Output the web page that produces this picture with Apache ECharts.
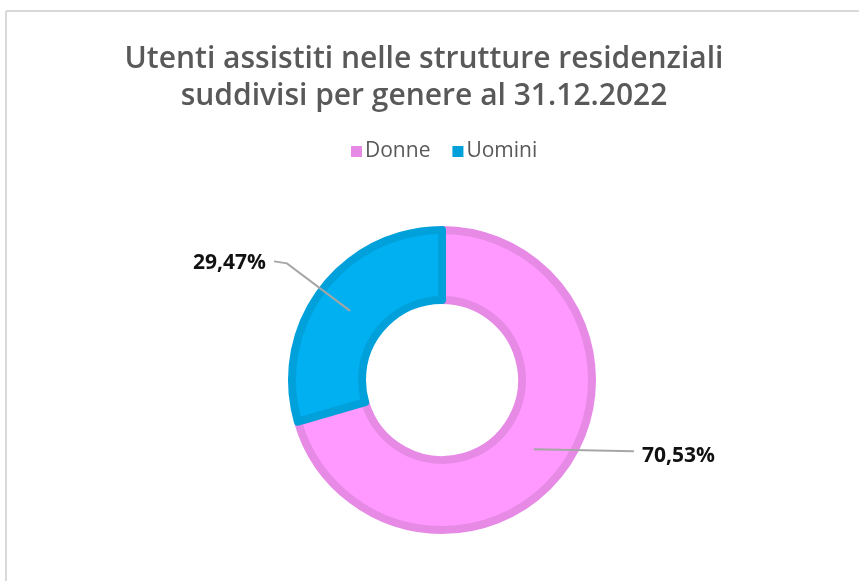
<!DOCTYPE html>
<html>
<head>
<meta charset="utf-8">
<script src="https://cdn.jsdelivr.net/npm/echarts@6/dist/echarts.min.js"></script>
<style>
html,body{margin:0;padding:0;background:#fff;}
#c{width:859px;height:581px;}
</style>
</head>
<body>
<div id="c"></div>
<script>
const titleLines = ['Utenti assistiti nelle strutture residenziali', 'suddivisi per genere al 31.12.2022'];
const categories = ['Donne', 'Uomini'];
const values = [70.53, 29.47];
const fillColors = ['#FF99FF', '#00B0F0'];
const borderColors = ['#E68AE6', '#00A0DA'];

const chart = echarts.init(document.getElementById('c'), null, {renderer: 'canvas'});
const CX = 442, CY = 380;

function fmt(v){ return v.toFixed(2).replace('.', ',') + '%'; }

function labelLayout(p) {
  const pts = p.labelLinePoints;
  if (!pts) return {};
  const dx = pts[0][0] - CX, dy = pts[0][1] - CY;
  const r = Math.sqrt(dx*dx + dy*dy);
  const k = 115 / r;
  const s = [CX + dx*k, CY + dy*k];
  if (dx > 0) {
    const e = [s[0] + 100, s[1] + 2];
    return {x: e[0] + 8, y: e[1] + 5, align: 'left', verticalAlign: 'middle',
            labelLinePoints: [s, e, e]};
  } else {
    const m = [s[0] + dx/r*79, s[1] + dy/r*79];
    const e = [m[0] - 13, m[1] - 2];
    return {x: e[0] - 8, y: e[1] + 2, align: 'right', verticalAlign: 'middle',
            labelLinePoints: [s, m, e]};
  }
}

chart.setOption({
  backgroundColor: '#ffffff',
  animation: false,
  title: {
    text: titleLines.join('\n'),
    left: 419,
    textAlign: 'center',
    top: 36,
    textStyle: {
      fontFamily: 'Open Sans',
      fontSize: 30,
      fontWeight: 600,
      color: '#595959',
      lineHeight: 37
    }
  },
  legend: {
    data: categories.map((n, i) => ({name: n, itemStyle: {color: borderColors[i], borderWidth: 0}})),
    top: 136,
    left: 346,
    itemWidth: 11,
    itemHeight: 11,
    itemGap: 22,
    icon: 'rect',
    textStyle: {fontFamily: 'Open Sans', fontSize: 21, color: '#595959', padding: [0,0,0,-2]}
  },
  graphic: [
    {type: 'line', shape: {x1: 6, y1: 11, x2: 859, y2: 11}, style: {stroke: '#d9d9d9', lineWidth: 2}},
    {type: 'line', shape: {x1: 6, y1: 11, x2: 6, y2: 581}, style: {stroke: '#d9d9d9', lineWidth: 2}}
  ],
  series: [{
    type: 'pie',
    center: [CX, CY],
    radius: [80, 150],
    startAngle: 90,
    clockwise: true,
    z: 2,
    data: categories.map((n, i) => ({
      name: n,
      value: values[i],
      itemStyle: {color: fillColors[i], borderColor: borderColors[i], borderWidth: 8}
    })),
    label: {show: false},
    labelLine: {show: false}
  }, {
    type: 'pie',
    center: [CX, CY],
    radius: [80, 150],
    startAngle: 90,
    clockwise: true,
    silent: true,
    z: 5,
    legendHoverLink: false,
    data: categories.map((n, i) => ({
      name: n,
      value: values[i],
      itemStyle: {color: 'rgba(0,0,0,0)', borderWidth: 0}
    })),
    label: {
      show: true,
      position: 'outside',
      formatter: p => fmt(p.value),
      fontFamily: 'Open Sans',
      fontWeight: 'bold',
      fontSize: 21,
      color: '#111111'
    },
    labelLine: {show: true, length: 20, length2: 20, lineStyle: {color: '#a6a6a6', width: 2}},
    labelLayout: labelLayout
  }]
});
</script>
</body>
</html>
